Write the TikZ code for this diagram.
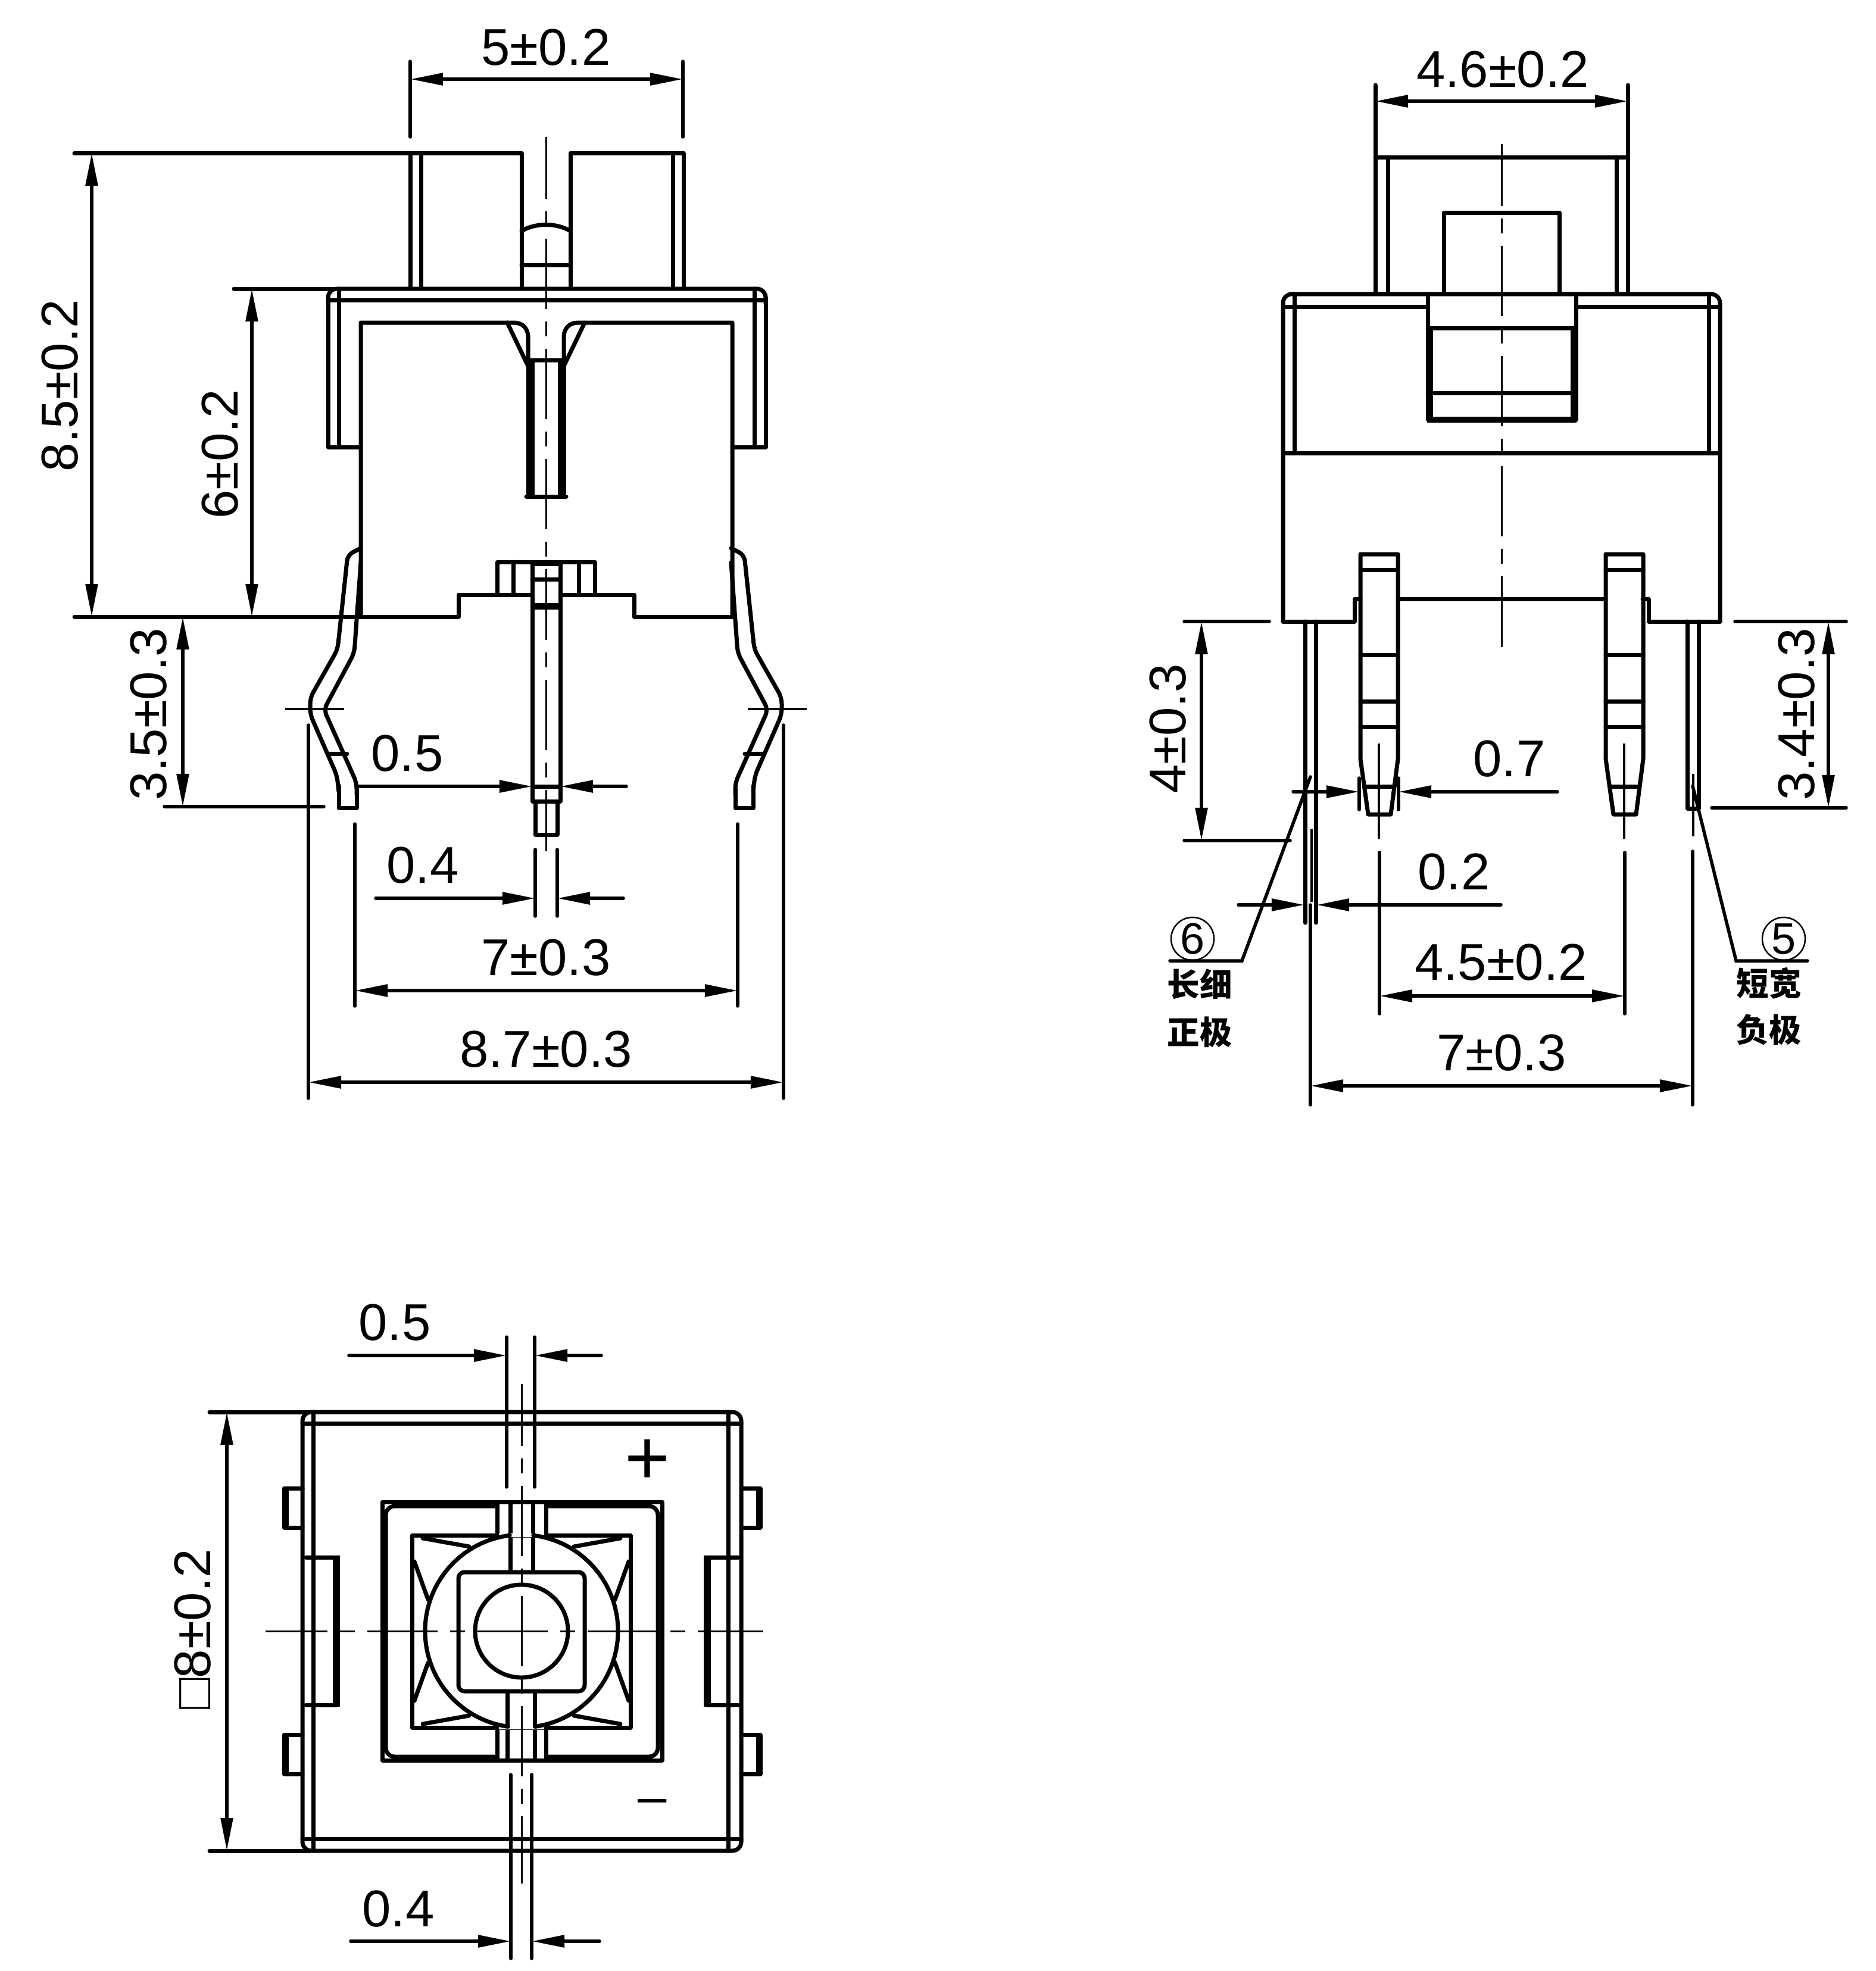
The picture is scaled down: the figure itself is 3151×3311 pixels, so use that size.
\documentclass[tikz,border=0pt]{standalone}
\usepackage{fontspec}
\setmainfont{Liberation Sans}
\newfontfamily\cjk{Noto Sans CJK SC}
\usetikzlibrary{arrows.meta}
\tikzset{
  part/.style={line width=0.07cm,line cap=round,line join=round},
  heavy/.style={line width=0.14cm},
  hair/.style={line width=0.035cm},
  axisline/.style={line width=0.03cm,dash pattern=on 1.18cm off 0.21cm on 0.25cm off 0.21cm,dash phase=0.14cm},
  extline/.style={line width=0.055cm,line cap=round},
  dimline/.style={line width=0.055cm,line cap=round,-{Triangle[length=0.55cm,width=0.2cm]}},
  twoway/.style={line width=0.055cm,{Triangle[length=0.55cm,width=0.2cm]}-{Triangle[length=0.55cm,width=0.2cm]}},
  dimtext/.style={font=\fontsize{24.7}{26}\selectfont,inner sep=0pt},
  hantext/.style={font=\cjk\bfseries\fontsize{15.5}{17}\selectfont,inner sep=0pt}
}
\begin{document}
\begin{tikzpicture}[x=0.01cm,y=-0.01cm]
  \useasboundingbox (0,0) rectangle (3151,3311);

  % front view
  \draw[part] (125,257) -- (876,257) -- (876,485);
  \draw[part] (958,485) -- (958,257) -- (1148,257) -- (1148,485);
  \draw[part] (689,257) -- (689,485) (707,257) -- (707,485) (1130,257) -- (1130,485);
  \draw[part] (876,388) .. controls (900,374) and (934,374) .. (958,388);
  \draw[part] (876,445) -- (958,445);
  \draw[part] (606,751) -- (551,751) -- (551,500) (1286,500) -- (1286,751) -- (1230,751);
  \draw[part,rounded corners=0.15cm] (551,510) -- (551,485) -- (1286,485) -- (1286,510);
  \draw[part] (393,485) -- (570,485);
  \draw[part] (551,504) -- (1286,504) (569,485) -- (569,751) (1267,485) -- (1267,751);
  \draw[part] (606,1036) -- (606,542) -- (863,542) .. controls (878,542) and (887,552) .. (887,566) -- (887,605)
    -- (947,605) -- (947,566) .. controls (947,552) and (956,542) .. (971,542) -- (1230,542) -- (1230,1036);
  \draw[part] (852,542) -- (887,615) (982,542) -- (947,615);
  \draw[heavy] (891,605) -- (891,834) (944,605) -- (944,834);
  \draw[part] (884,834) -- (951,834);
  \draw[part] (125,1036) -- (770,1036) -- (770,999) -- (894,999);
  \draw[part] (941,999) -- (1065,999) -- (1065,1036) -- (1230,1036);
  \draw[part] (835,999) -- (835,944) -- (999,944) -- (999,999) (862,944) -- (862,999) (972,944) -- (972,999);
  \draw[part] (894,944) rectangle (941,1346);
  \draw[part] (899,1346) rectangle (936,1402);
  \draw[part] (894,973) -- (941,973) (894,1321) -- (941,1321);
  \draw[line width=0.11cm] (894,1018) -- (941,1018);
  \draw[line width=0.08cm] (894,947) -- (941,947);
  \draw[axisline] (917,230) -- (917,1430);

  \foreach \flip/\off in {1/0,-1/1834} {
    \begin{scope}[shift={(\off,0)},xscale=\flip]
      \draw[part,rounded corners=0.1cm] (606,921) -- (584,932) -- (567,1091) -- (521,1172) -- (521,1200) -- (566,1303) -- (569,1330);
      \draw[part] (569,1320) -- (569,1357) -- (599,1357) -- (599,1325);
      \draw[part,rounded corners=0.1cm] (599,1335) -- (599,1315) -- (544,1192) -- (595,1097) -- (606,945);
      \draw[part] (552,1266) -- (583,1266);
      \draw[hair] (479,1191) -- (578,1191);
    \end{scope}
  }

  \draw[extline] (689,103) -- (689,230) (1147,103) -- (1147,230);
  \draw[twoway] (689,133) -- (1147,133);
  \node[dimtext] (lbltop) at (917,80) {5±0.2};
  \draw[twoway] (154,257) -- (154,1036);
  \node[dimtext,rotate=90] (lblheight) at (101,648) {8.5±0.2};
  \draw[twoway] (423,485) -- (423,1036);
  \node[dimtext,rotate=90] (lblbody) at (370,763) {6±0.2};
  \draw[twoway] (307,1036) -- (307,1355);
  \draw[extline] (276,1355) -- (544,1355);
  \node[dimtext,rotate=90] (lbllead) at (250,1200) {3.5±0.3};
  \draw[dimline] (601,1321) -- (894,1321);
  \draw[dimline] (1052,1321) -- (941,1321);
  \node[dimtext] (lblpin) at (684,1266) {0.5};
  \draw[extline] (899,1427) -- (899,1539) (936,1427) -- (936,1539);
  \draw[dimline] (631,1509) -- (899,1509);
  \draw[dimline] (1047,1509) -- (936,1509);
  \node[dimtext] (lbltip) at (710,1454) {0.4};
  \draw[extline] (596,1384) -- (596,1690) (1239,1384) -- (1239,1690);
  \draw[twoway] (596,1664) -- (1239,1664);
  \node[dimtext] (lblpitch) at (917,1609) {7±0.3};
  \draw[extline] (518,1218) -- (518,1845) (1316,1218) -- (1316,1845);
  \draw[twoway] (518,1818) -- (1316,1818);
  \node[dimtext] (lblwide) at (917,1763) {8.7±0.3};

  % side view
  \draw[part] (2310,143) -- (2310,494) (2734,143) -- (2734,494);
  \draw[part] (2331,264) -- (2331,494) (2715,264) -- (2715,494) (2310,264) -- (2734,264);
  \draw[part] (2425,494) -- (2425,357) -- (2619,357) -- (2619,494);
  \draw[part,rounded corners=0.15cm] (2155,1044) -- (2155,494) -- (2889,494) -- (2889,1044);
  \draw[part] (2155,515) -- (2398,515) (2647,515) -- (2889,515);
  \draw[part] (2174,494) -- (2174,761) (2870,494) -- (2870,761) (2155,761) -- (2889,761);
  \draw[part] (2398,494) -- (2398,705) (2647,494) -- (2647,705) (2398,551) -- (2647,551) (2398,660) -- (2647,660);
  \draw[line width=0.1cm] (2402,551) -- (2402,705) -- (2643,705) -- (2643,551);
  \draw[part] (2155,1044) -- (2275,1044) -- (2275,1006) -- (2285,1006);
  \draw[part] (2348,1006) -- (2695,1006);
  \draw[part] (2759,1006) -- (2769,1006) -- (2769,1044) -- (2889,1044);
  \draw[axisline] (2522,242) -- (2522,1105);
  \foreach \off in {0,412} {
    \begin{scope}[shift={(\off,0)}]
      \draw[part] (2285,1275) -- (2285,931) -- (2348,931) -- (2348,1275) -- (2336,1368) -- (2298,1368) -- cycle;
      \draw[part] (2285,957) -- (2348,957) (2285,1100) -- (2348,1100) (2285,1178) -- (2348,1178) (2285,1221) -- (2348,1221);
      \draw[part] (2292,1321) -- (2342,1321);
      \draw[hair] (2316,1249) -- (2316,1409);
    \end{scope}
  }
  \draw[part] (2192,1044) -- (2192,1550) (2210,1044) -- (2210,1550);
  \draw[part] (2834,1044) -- (2834,1358) -- (2853,1358) -- (2853,1044);
  \draw[hair] (2203,1393) -- (2203,1515) (2844,1300) -- (2844,1405);
  \draw[extline] (2283,1307) -- (2283,1360) (2349,1307) -- (2349,1360);

  \draw[twoway] (2310,170) -- (2734,170);
  \node[dimtext] (lblcap) at (2524,117) {4.6±0.2};
  \draw[extline] (1989,1044) -- (2132,1044) (1989,1412) -- (2167,1412);
  \draw[twoway] (2018,1044) -- (2018,1412);
  \node[dimtext,rotate=90] (lbllong) at (1962,1224) {4±0.3};
  \draw[extline] (2914,1044) -- (3101,1044) (2875,1357) -- (3101,1357);
  \draw[twoway] (3071,1044) -- (3071,1357);
  \node[dimtext,rotate=90] (lblshort) at (3018,1200) {3.4±0.3};
  \draw[dimline] (2172,1330) -- (2283,1330);
  \draw[dimline] (2616,1330) -- (2349,1330);
  \node[dimtext] (lbllug) at (2535,1275) {0.7};
  \draw[dimline] (2080,1520) -- (2191,1520);
  \draw[dimline] (2521,1520) -- (2211,1520);
  \node[dimtext] (lblthin) at (2442,1465) {0.2};
  \draw[extline] (2317,1432) -- (2317,1703) (2729,1432) -- (2729,1703);
  \draw[twoway] (2317,1673) -- (2729,1673);
  \node[dimtext] (lbllugs) at (2521,1617) {4.5±0.2};
  \draw[extline] (2201,1520) -- (2201,1856) (2843,1430) -- (2843,1856);
  \draw[twoway] (2201,1824) -- (2843,1824);
  \node[dimtext] (lblpins) at (2522,1769) {7±0.3};

  \node[draw,circle,line width=0.025cm,minimum size=0.72cm,inner sep=0pt,font=\fontsize{21}{22}\selectfont] (polesix) at (2003,1577) {6};
  \node[draw,circle,line width=0.025cm,minimum size=0.72cm,inner sep=0pt,font=\fontsize{21}{22}\selectfont] (polefive) at (2996,1577) {5};
  \draw[extline] (1965,1614) -- (2086,1614) -- (2201,1305);
  \draw[extline] (3036,1614) -- (2916,1614) -- (2843,1320);
  \node[hantext] (txtlong) at (2015,1653) {长细};
  \node[hantext] (txtplus) at (2015,1734) {正极};
  \node[hantext] (txtshort) at (2971,1652) {短宽};
  \node[hantext] (txtminus) at (2971,1730) {负极};

  % bottom view
  \draw[part,rounded corners=0.15cm] (508,2372) rectangle (1245,3109);
  \draw[part] (352,2372) -- (520,2372) (352,3109) -- (520,3109);
  \draw[part] (508,2391) -- (1245,2391) (508,3089) -- (1245,3089) (526,2372) -- (526,3109) (1223,2372) -- (1223,3109);
  \foreach \y in {2500,2914} {
    \draw[part] (508,\y) -- (477,\y) -- (477,\y+66) -- (508,\y+66);
    \draw[part] (1245,\y) -- (1277,\y) -- (1277,\y+66) -- (1245,\y+66);
    \draw[line width=0.09cm] (480,\y) -- (480,\y+66) (1274,\y) -- (1274,\y+66);
  }
  \draw[part] (514,2616) -- (566,2616) (514,2864) -- (566,2864) (1240,2616) -- (1187,2616) (1240,2864) -- (1187,2864);
  \draw[line width=0.12cm] (565,2613) -- (565,2867) (1188,2613) -- (1188,2867);

  \coordinate (btn) at (876,2740);
  \draw[part] (642,2523) rectangle (1112,2957);
  \draw[part,rounded corners=0.15cm] (835,2530) -- (648,2530) -- (648,2951) -- (835,2951);
  \draw[part,rounded corners=0.15cm] (917,2530) -- (1105,2530) -- (1105,2951) -- (917,2951);
  \draw[part] (692,2579) rectangle (1059,2902);
  \draw[part] (835,2523) -- (835,2579) (857,2523) -- (857,2640) (895,2523) -- (895,2640) (917,2523) -- (917,2579);
  \draw[part] (835,2902) -- (835,2957) (852,2842) -- (852,2957) (898,2842) -- (898,2957) (917,2902) -- (917,2957);
  \fill[white] (838,2576) rectangle (914,2582) (838,2899) rectangle (914,2905);
  \draw[part] ([shift={(-83:162)}]btn) arc[start angle=-83,end angle=82,radius=162];
  \draw[part] ([shift={(-97:162)}]btn) arc[start angle=-97,end angle=-262,radius=162];
  \foreach \sx in {-1,1} {
    \foreach \sy in {-1,1} {
      \draw[part] ({876+\sx*166},{2740+\sy*156}) -- ({876+\sx*88},{2740+\sy*142});
      \draw[part] ({876+\sx*180},{2740+\sy*117}) -- ({876+\sx*157},{2740+\sy*53});
    }
  }
  \draw[part,fill=white,rounded corners=0.1cm] (770,2641) rectangle (982,2841);
  \draw[part] (btn) circle[radius=78];
  \draw[axisline] (876,2325) -- (876,3164);
  \draw[axisline] (446,2740) -- (1282,2740);

  \draw[extline] (851,2246) -- (851,2498) (898,2246) -- (898,2498);
  \draw[dimline] (586,2277) -- (851,2277);
  \draw[dimline] (1010,2277) -- (898,2277);
  \node[dimtext] (lblslot) at (663,2222) {0.5};
  \draw[extline] (858,2981) -- (858,3290) (893,2981) -- (893,3290);
  \draw[dimline] (589,3261) -- (858,3261);
  \draw[dimline] (1007,3261) -- (893,3261);
  \node[dimtext] (lblgap) at (669,3207) {0.4};
  \draw[twoway] (381,2372) -- (381,3109);
  \node[dimtext,rotate=90] (lblsquare) at (324,2737) {□8±0.2};
  \node[inner sep=0pt,font=\fontsize{37}{38}\selectfont] (markplus) at (1087,2456) {+};
  \node[dimtext] (markminus) at (1096,3035) {–};
\end{tikzpicture}
\end{document}
